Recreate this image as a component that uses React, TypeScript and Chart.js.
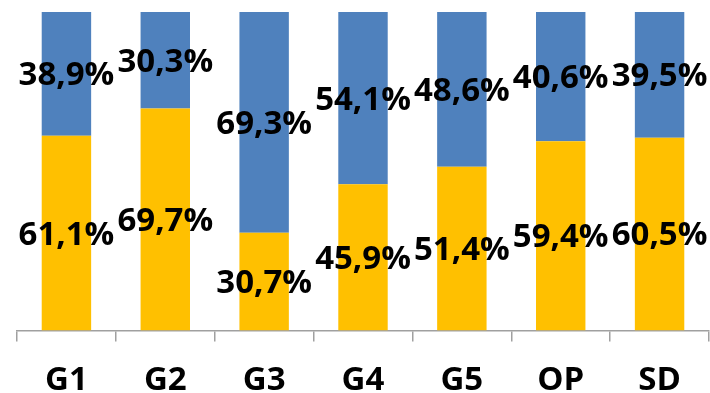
import React, { useEffect, useRef } from "react";
import { Chart, registerables } from "chart.js";

Chart.register(...registerables);

const categories = ["G1", "G2", "G3", "G4", "G5", "OP", "SD"];
const yellowValues = [61.1, 69.7, 30.7, 45.9, 51.4, 59.4, 60.5];
const blueValues = [38.9, 30.3, 69.3, 54.1, 48.6, 40.6, 39.5];

const FONT = "'Open Sans', sans-serif";
const CANVAS_H = 419;

const labelPlugin = {
  id: "segLabels",
  afterDatasetsDraw(chart: any) {
    const ctx = chart.ctx;
    ctx.save();
    ctx.font = `bold 33px ${FONT}`;
    ctx.fillStyle = "#000";
    ctx.textAlign = "center";
    ctx.textBaseline = "middle";
    chart.data.datasets.forEach((ds: any, di: number) => {
      const meta = chart.getDatasetMeta(di);
      meta.data.forEach((bar: any, i: number) => {
        const v = ds.data[i] as number;
        const y = (bar.y + bar.base) / 2 + 2;
        ctx.fillText(v.toFixed(1).replace(".", ",") + "%", bar.x, y);
      });
    });
    ctx.restore();
  },
};

export default function App() {
  const ref = useRef<HTMLCanvasElement | null>(null);
  useEffect(() => {
    if (!ref.current) return;
    const chart = new Chart(ref.current, {
      type: "bar",
      data: {
        labels: categories,
        datasets: [
          { label: "Yellow", data: yellowValues, backgroundColor: "#FFC000", borderWidth: 0 },
          { label: "Blue", data: blueValues, backgroundColor: "#4F81BD", borderWidth: 0 },
        ],
      },
      options: {
        animation: false,
        responsive: false,
        maintainAspectRatio: false,
        layout: { padding: { left: 17, right: 1, top: 12, bottom: 0 } },
        datasets: { bar: { categoryPercentage: 1, barPercentage: 0.5 } },
        plugins: { legend: { display: false }, tooltip: { enabled: false } },
        scales: {
          x: {
            stacked: true,
            offset: true,
            grid: {
              offset: true,
              drawOnChartArea: false,
              drawTicks: true,
              tickLength: 11,
              color: "#A0A0A0",
              lineWidth: 1.5,
            },
            border: { display: true, color: "#A0A0A0", width: 1.5 },
            ticks: {
              color: "#000",
              padding: 19,
              font: { family: FONT, size: 33, weight: "bold" },
            },
          },
          y: {
            stacked: true,
            display: false,
            min: 0,
            max: 100,
          },
        },
      },
      plugins: [labelPlugin],
    });
    return () => chart.destroy();
  }, []);
  return (
    <div style={{ position: "fixed", left: 0, top: 0, width: 710, height: 393, overflow: "hidden", background: "#fff" }}>
      <canvas ref={ref} width={710} height={CANVAS_H} style={{ width: 710, height: CANVAS_H, display: "block" }} />
    </div>
  );
}
